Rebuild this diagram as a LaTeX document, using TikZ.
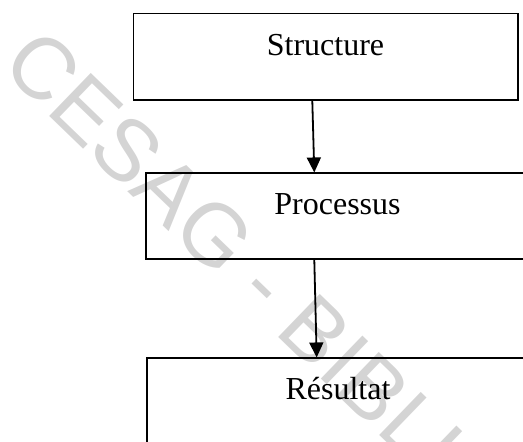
\documentclass[tikz,border=0pt]{standalone}
\usepackage{fontspec}
\setmainfont{Liberation Serif}
\newfontfamily\wmfont{Liberation Sans}
\usetikzlibrary{arrows.meta}
\begin{document}
\begin{tikzpicture}[x=1pt,y=-1pt,
  box/.style={draw=black, line width=1.7pt, inner sep=0pt, fill=none},
  lbl/.style={inner sep=0pt, anchor=base, font=\fontsize{32}{36}\selectfont},
  conn/.style={line width=1.8pt, -{Triangle[length=15pt,width=14pt]}},
  wm/.style={inner sep=0pt, anchor=west, text height=62pt, text depth=0pt, text=black!17, font=\wmfont\fontsize{87}{95}\selectfont, rotate=-44}]
\useasboundingbox (0,0) rectangle (523,442);
\clip (0,0) rectangle (523,442);
% watermark
\node[wm] (wmark) at (20.4,45.2) {CESAG - BIBLIO};
% boxes
\node[box, minimum width=384.2pt, minimum height=86.5pt] (s) at (325.6,56.75) {};
\node[box, minimum width=383.3pt, minimum height=86pt] (p) at (337.4,216.3) {};
\node[box, minimum width=381pt, minimum height=88pt] (r) at (337.5,402.3) {};
% labels
\node[lbl] (ts) at (325.5,55.7) {Structure};
\node[lbl] (tp) at (337.5,214.3) {Processus};
\node[lbl] (tr) at (338,399) {Résultat};
% connectors
\draw[conn] ([xshift=-13.3pt]s.south) -- ([xshift=-23.1pt]p.north);
\draw[conn] ([xshift=-23.1pt]p.south) -- ([xshift=-20.8pt]r.north);
\end{tikzpicture}
\end{document}
